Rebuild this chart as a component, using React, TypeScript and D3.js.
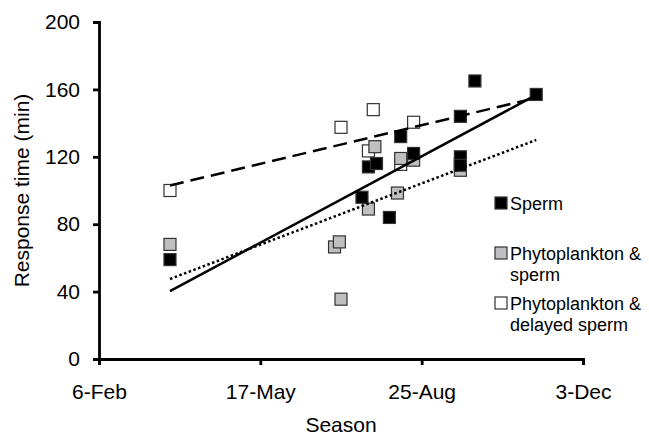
import React, { useEffect, useRef } from "react";
import * as d3 from "d3";

// values (date as d-Mon, response time in min)
const sperm = [
    ["22-Mar", 59], ["19-Jul", 96], ["23-Jul", 114], ["28-Jul", 116],
    ["5-Aug", 84], ["12-Aug", 132], ["20-Aug", 122], ["18-Sep", 144],
    ["18-Sep", 120], ["18-Sep", 115], ["27-Sep", 165], ["4-Nov", 157]
];
const phytoSperm = [
    ["22-Mar", 68], ["2-Jul", 66.5], ["5-Jul", 69.5], ["6-Jul", 35.5],
    ["23-Jul", 89], ["27-Jul", 126], ["10-Aug", 98.5], ["12-Aug", 119],
    ["20-Aug", 118], ["18-Sep", 112]
];
const phytoDelayed = [
    ["22-Mar", 100], ["6-Jul", 137.5], ["26-Jul", 148], ["23-Jul", 123.5],
    ["12-Aug", 115.5], ["20-Aug", 140.5], ["18-Sep", 116]
];
// trendline end points
const spermTrend = [["22-Mar", 40.3], ["4-Nov", 156.7]];
const phytoSpermTrend = [["22-Mar", 47.5], ["4-Nov", 130]];
const phytoDelayedTrend = [["22-Mar", 103], ["4-Nov", 155]];

const xTicks = ["6-Feb", "17-May", "25-Aug", "3-Dec"];
const yTicks = [0, 40, 80, 120, 160, 200];

const legendItems = [
    { lines: ["Sperm"], fill: "#000000" },
    { lines: ["Phytoplankton &", "sperm"], fill: "#bfbfbf" },
    { lines: ["Phytoplankton &", "delayed sperm"], fill: "#ffffff" }
];

const FONT = "'Liberation Sans', Arial, sans-serif";
const parseDay = d3.timeParse("%d-%b-%Y");
const toDate = (s) => parseDay(s + "-2011");

const width = 649;
const height = 435;

export default function App() {
    const xAxisRef = useRef(null);
    const yAxisRef = useRef(null);

    const x = d3
        .scaleTime()
        .domain([toDate("6-Feb"), toDate("3-Dec")])
        .range([99, 583]);

    const y = d3.scaleLinear().domain([0, 200]).range([359, 22]);

    useEffect(() => {
        const xAxis = d3
            .axisBottom(x)
            .tickValues(xTicks.map(toDate))
            .tickFormat(d3.timeFormat("%-d-%b"))
            .tickSizeOuter(0)
            .tickSize(6)
            .tickPadding(19);

        const yAxis = d3
            .axisLeft(y)
            .tickValues(yTicks)
            .tickSizeOuter(0)
            .tickSize(6)
            .tickPadding(13);

        const gx = d3.select(xAxisRef.current).call(xAxis);
        const gy = d3.select(yAxisRef.current).call(yAxis);

        [gx, gy].forEach((g) => {
            g.select(".domain").attr("stroke", "#000").attr("stroke-width", 2.8);
            g.selectAll(".tick line").attr("stroke", "#000").attr("stroke-width", 2.8);
            g.selectAll(".tick text")
                .attr("fill", "#000")
                .style("font-family", FONT)
                .style("font-size", "21px");
        });
    }, []);

    const line = d3
        .line()
        .x((d) => x(toDate(d[0])))
        .y((d) => y(d[1]));

    const markerSize = 12;
    const drawSeries = (data, fill, key) =>
        data.map((d, i) => (
            <rect
                key={key + i}
                x={x(toDate(d[0])) - markerSize / 2}
                y={y(d[1]) - markerSize / 2}
                width={markerSize}
                height={markerSize}
                fill={fill}
                stroke="#333"
                strokeWidth={1.2}
            />
        ));

    return (
        <svg
            width={width}
            height={height}
            style={{ position: "absolute", left: 0, top: 0, background: "#fff" }}
        >
            <g ref={xAxisRef} transform={`translate(0,${y(0)})`} />
            <g ref={yAxisRef} transform={`translate(${x(toDate("6-Feb"))},0)`} />

            <text
                transform={`translate(29,${(y(0) + y(200)) / 2}) rotate(-90)`}
                textAnchor="middle"
                fontFamily={FONT}
                fontSize={21}
            >
                Response time (min)
            </text>
            <text x={341} y={432} textAnchor="middle" fontFamily={FONT} fontSize={21}>
                Season
            </text>

            {drawSeries(phytoDelayed, "#ffffff", "w")}
            {drawSeries(phytoSperm, "#bfbfbf", "g")}
            {drawSeries(sperm, "#000000", "b")}

            <path d={line(phytoDelayedTrend)} fill="none" stroke="#000" strokeWidth={2.5} strokeDasharray="14,7" />
            <path d={line(phytoSpermTrend)} fill="none" stroke="#000" strokeWidth={2.5} strokeDasharray="2.5,2.5" />
            <path d={line(spermTrend)} fill="none" stroke="#000" strokeWidth={2.5} />

            {legendItems.map((item, i) => {
                const cy = 203 + i * 50;
                return (
                    <g key={i}>
                        <rect x={495} y={cy - 6} width={12} height={12} fill={item.fill} stroke="#333" strokeWidth={1.2} />
                        {item.lines.map((t, j) => (
                            <text key={j} x={510} y={cy + 6.5 + j * 21} fontFamily={FONT} fontSize={18}>
                                {t}
                            </text>
                        ))}
                    </g>
                );
            })}
        </svg>
    );
}
